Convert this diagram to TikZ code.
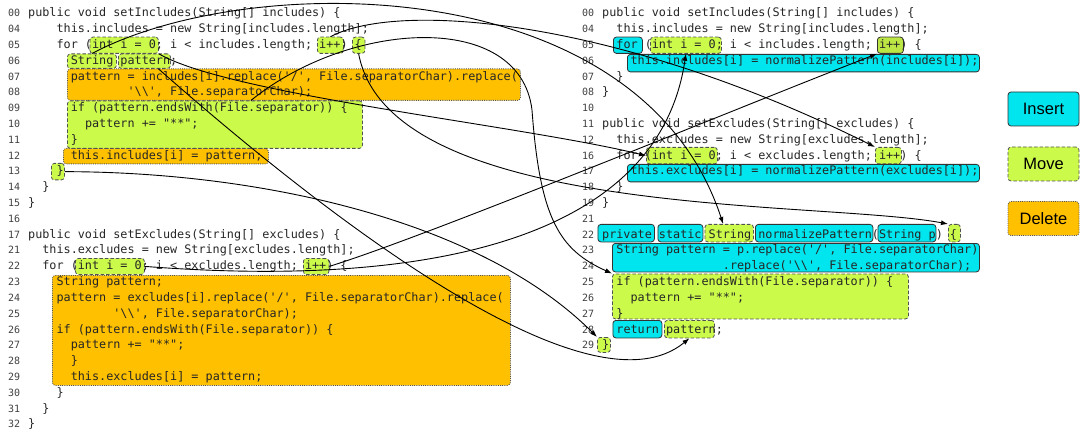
\documentclass[tikz,border=0pt]{standalone}
\usepackage{fontspec}
\setmonofont{DejaVu Sans Mono}
\newfontfamily\legfont{Liberation Sans}
\usetikzlibrary{arrows.meta}
\definecolor{inscol}{HTML}{00E5EE}
\definecolor{movcol}{HTML}{CCFA4A}
\definecolor{delcol}{HTML}{FFC000}
\definecolor{edgecol}{HTML}{333333}
\newcommand\codefnt{\ttfamily\fontsize{11.79}{14}\selectfont\frenchspacing}
\newcommand\numfnt{\ttfamily\fontsize{10}{12}\selectfont}
\newcommand\hlbox[6]{%
  \pgfmathsetmacro\hbw{#5-#3}\pgfmathsetmacro\hbh{#6-#4}%
  \node[#2, anchor=north west, minimum width=\hbw pt, minimum height=\hbh pt] (#1) at (#3,#4) {};}
\begin{document}
\begin{tikzpicture}[x=1pt,y=-1pt,
  insbox/.style={draw=edgecol, fill=inscol, rounded corners=3pt, line width=0.8pt, inner sep=0pt},
  movbox/.style={draw=edgecol!85, fill=movcol, dash pattern=on 3.5pt off 2pt, rounded corners=3pt, line width=0.8pt, inner sep=0pt},
  movboxdark/.style={draw=edgecol, fill=movcol!92!black, rounded corners=3pt, line width=0.8pt, inner sep=0pt},
  delbox/.style={draw=edgecol!85, fill=delcol, dash pattern=on 1pt off 1.2pt, rounded corners=3pt, line width=0.8pt, inner sep=0pt},
  code/.style={anchor=base west, inner sep=0pt, font=\codefnt, text=black!85},
  num/.style={anchor=base west, inner sep=0pt, font=\numfnt, text=black!75},
  leg/.style={minimum width=71pt, minimum height=34pt, inner sep=0pt, font=\legfont\fontsize{16.5}{18}\selectfont},
  arr/.style={-{Latex[length=7pt,width=5pt]}, line width=0.9pt, black}]
\useasboundingbox (0,0) rectangle (1080,433);

% ---------- highlight boxes, left ----------
\hlbox{L6}{delbox}{67}{68.5}{520}{100}
\hlbox{L8}{delbox}{63}{148}{268}{163.5}
\hlbox{L12}{delbox}{52}{275}{510}{385}
\hlbox{L1}{movbox}{89.5}{36.7}{158}{53}
\hlbox{L2}{movbox}{317}{36.7}{343}{53}
\hlbox{L3}{movbox}{352}{36.7}{364.5}{53}
\hlbox{L4}{movbox}{67}{53.5}{116}{68}
\hlbox{L5}{movbox}{118}{53.5}{170}{68}
\hlbox{L7}{movbox}{67}{100.5}{362}{148}
\hlbox{L9}{movbox}{51}{163}{64}{179.5}
\hlbox{L10}{movbox}{75}{258}{144}{274}
\hlbox{L11}{movbox}{303}{258}{328.5}{274}

% ---------- highlight boxes, right ----------
\hlbox{R1}{insbox}{613}{36.7}{642}{53}
\hlbox{R2}{movbox}{650}{36.7}{721}{53}
\hlbox{R3}{movboxdark}{877}{36.7}{903}{53}
\hlbox{R4}{insbox}{627}{54}{979}{71.5}
\hlbox{R5}{movbox}{646}{147}{717}{163.5}
\hlbox{R6}{movbox}{875}{147}{901}{163.5}
\hlbox{R7}{insbox}{627}{164}{979}{181.5}
\hlbox{R8a}{insbox}{597.5}{224}{654}{241.5}
\hlbox{R8b}{insbox}{657.5}{224}{702.5}{241.5}
\hlbox{R8s}{movbox}{704.5}{224}{753}{241.5}
\hlbox{R8n}{insbox}{755}{224}{872.5}{241.5}
\hlbox{R8p}{insbox}{877.5}{224}{935.5}{241.5}
\hlbox{R8c}{movbox}{948}{224}{960}{241.5}
\hlbox{R9}{insbox}{612}{243}{979}{271.5}
\hlbox{R10}{movbox}{612}{273.5}{908}{318.5}
\hlbox{R11r}{insbox}{612.5}{320}{661.5}{337.5}
\hlbox{R11p}{movbox}{664}{320}{714}{337.5}
\hlbox{R12}{movbox}{597}{337}{610}{352}

% ---------- legend ----------
\node[insbox, leg] (legIns) at (1043.5,109) {Insert};
\node[movbox, leg] (legMov) at (1043.5,164) {Move};
\node[delbox, leg] (legDel) at (1043.5,218.5) {Delete};

% ---------- left code ----------
\node[num] (nl00) at (8,17) {00};
\node[num] (nl04) at (8,32.8) {04};
\node[num] (nl05) at (8,48.6) {05};
\node[num] (nl06) at (8,64.4) {06};
\node[num] (nl07) at (8,80.2) {07};
\node[num] (nl08) at (8,96) {08};
\node[num] (nl09) at (8,111.8) {09};
\node[num] (nl10) at (8,127.6) {10};
\node[num] (nl11) at (8,143.4) {11};
\node[num] (nl12) at (8,159.2) {12};
\node[num] (nl13) at (8,175) {13};
\node[num] (nl14) at (8,190.8) {14};
\node[num] (nl15) at (8,206.6) {15};
\node[num] (nl16) at (8,222.4) {16};
\node[num] (nl17) at (8,238.2) {17};
\node[num] (nl21) at (8,254) {21};
\node[num] (nl22) at (8,269.8) {22};
\node[num] (nl23) at (8,285.6) {23};
\node[num] (nl24) at (8,301.4) {24};
\node[num] (nl25) at (8,317.2) {25};
\node[num] (nl26) at (8,333) {26};
\node[num] (nl27) at (8,348.8) {27};
\node[num] (nl28) at (8,364.6) {28};
\node[num] (nl29) at (8,380.4) {29};
\node[num] (nl30) at (8,396.2) {30};
\node[num] (nl31) at (8,412) {31};
\node[num] (nl32) at (8,427.8) {32};

\node[code] (cl00) at (28,17) {public void setIncludes(String[] includes) \{};
\node[code] (cl04) at (56.4,32.8) {this.includes = new String[includes.length];};
\node[code] (cl05) at (56.4,48.6) {for (int i = 0; i < includes.length; i++) \{};
\node[code] (cl06) at (70.6,64.4) {String pattern;};
\node[code] (cl07) at (70.6,80.2) {pattern = includes[i].replace('/', File.separatorChar).replace(};
\node[code] (cl08) at (127.4,96) {'\textbackslash\textbackslash', File.separatorChar);};
\node[code] (cl09) at (70.6,111.8) {if (pattern.endsWith(File.separator)) \{};
\node[code] (cl10) at (84.8,127.6) {pattern += "**";};
\node[code] (cl11) at (70.6,143.4) {\}};
\node[code] (cl12) at (70.6,159.2) {this.includes[i] = pattern;};
\node[code] (cl13) at (56.4,175) {\}};
\node[code] (cl14) at (42.2,190.8) {\}};
\node[code] (cl15) at (28,206.6) {\}};
\node[code] (cl17) at (28,238.2) {public void setExcludes(String[] excludes) \{};
\node[code] (cl21) at (42.2,254) {this.excludes = new String[excludes.length];};
\node[code] (cl22) at (42.2,269.8) {for (int i = 0; i < excludes.length; i++) \{};
\node[code] (cl23) at (56.4,285.6) {String pattern;};
\node[code] (cl24) at (56.4,301.4) {pattern = excludes[i].replace('/', File.separatorChar).replace(};
\node[code] (cl25) at (113.2,317.2) {'\textbackslash\textbackslash', File.separatorChar);};
\node[code] (cl26) at (56.4,333) {if (pattern.endsWith(File.separator)) \{};
\node[code] (cl27) at (70.6,348.8) {pattern += "**";};
\node[code] (cl28) at (70.6,364.6) {\}};
\node[code] (cl29) at (70.6,380.4) {this.excludes[i] = pattern;};
\node[code] (cl30) at (56.4,396.2) {\}};
\node[code] (cl31) at (42.2,412) {\}};
\node[code] (cl32) at (28,427.8) {\}};

% ---------- right code ----------
\node[num] (nr00) at (582,17) {00};
\node[num] (nr04) at (582,32.8) {04};
\node[num] (nr05) at (582,48.6) {05};
\node[num] (nr06) at (582,64.4) {06};
\node[num] (nr07) at (582,80.2) {07};
\node[num] (nr08) at (582,96) {08};
\node[num] (nr10) at (582,111.8) {10};
\node[num] (nr11) at (582,127.6) {11};
\node[num] (nr12) at (582,143.4) {12};
\node[num] (nr16) at (582,159.2) {16};
\node[num] (nr17) at (582,175) {17};
\node[num] (nr18) at (582,190.8) {18};
\node[num] (nr19) at (582,206.6) {19};
\node[num] (nr21) at (582,222.4) {21};
\node[num] (nr22) at (582,238.2) {22};
\node[num] (nr23) at (582,254) {23};
\node[num] (nr24) at (582,269.8) {24};
\node[num] (nr25) at (582,285.6) {25};
\node[num] (nr26) at (582,301.4) {26};
\node[num] (nr27) at (582,317.2) {27};
\node[num] (nr28) at (582,333) {28};
\node[num] (nr29) at (582,348.8) {29};

\node[code] (cr00) at (602,17) {public void setIncludes(String[] includes) \{};
\node[code] (cr04) at (616.2,32.8) {this.includes = new String[includes.length];};
\node[code] (cr05) at (616.2,48.6) {for (int i = 0; i < includes.length; i++) \{};
\node[code] (cr06) at (630.4,64.4) {this.includes[i] = normalizePattern(includes[i]);};
\node[code] (cr07) at (616.2,80.2) {\}};
\node[code] (cr08) at (602,96) {\}};
\node[code] (cr11) at (602,127.6) {public void setExcludes(String[] excludes) \{};
\node[code] (cr12) at (616.2,143.4) {this.excludes = new String[excludes.length];};
\node[code] (cr16) at (616.2,159.2) {for (int i = 0; i < excludes.length; i++) \{};
\node[code] (cr17) at (630.4,175) {this.excludes[i] = normalizePattern(excludes[i]);};
\node[code] (cr18) at (616.2,190.8) {\}};
\node[code] (cr19) at (602,206.6) {\}};
\node[code] (cr22) at (602,238.2) {private static String normalizePattern(String p) \{};
\node[code] (cr23) at (616.2,254) {String pattern = p.replace('/', File.separatorChar)};
\node[code] (cr24) at (722.7,269.8) {.replace('\textbackslash\textbackslash', File.separatorChar);};
\node[code] (cr25) at (616.2,285.6) {if (pattern.endsWith(File.separator)) \{};
\node[code] (cr26) at (630.4,301.4) {pattern += "**";};
\node[code] (cr27) at (616.2,317.2) {\}};
\node[code] (cr28) at (616.2,333) {return pattern;};
\node[code] (cr29) at (602,348.8) {\}};

% ---------- connectors ----------
\coordinate (g1) at (532,110);
\draw[arr] (L10.east) .. controls (450,290) and (660,230) .. (R2.south);
\draw[arr] (L11.east) .. controls (430,235) and (720,115) .. (R3.south west);
\draw[arr] (L1.south east) .. controls (230,95) and (520,125) .. (R5.west);
\draw[arr] (L2.north) .. controls (400,0) and (620,20) .. (R6.north west);
\draw[arr] (L4.north) .. controls (250,-30) and (640,-30) .. ([xshift=-6pt]R8s.north);
\draw[arr] (L3.south) .. controls (390,220) and (820,200) .. (R8c.north west);
\draw[arr] ([xshift=36pt]L7.north) .. controls (350,20) and (520,10) .. (g1) .. controls (540,220) and (560,250) .. (R10.north west);
\draw[arr] (L9.east) .. controls (260,172) and (480,220) .. (R12.north west);
\draw[arr] ([xshift=14pt]L5.south) .. controls (330,220) and (590,420) .. (R11p.south);
\end{tikzpicture}
\end{document}
